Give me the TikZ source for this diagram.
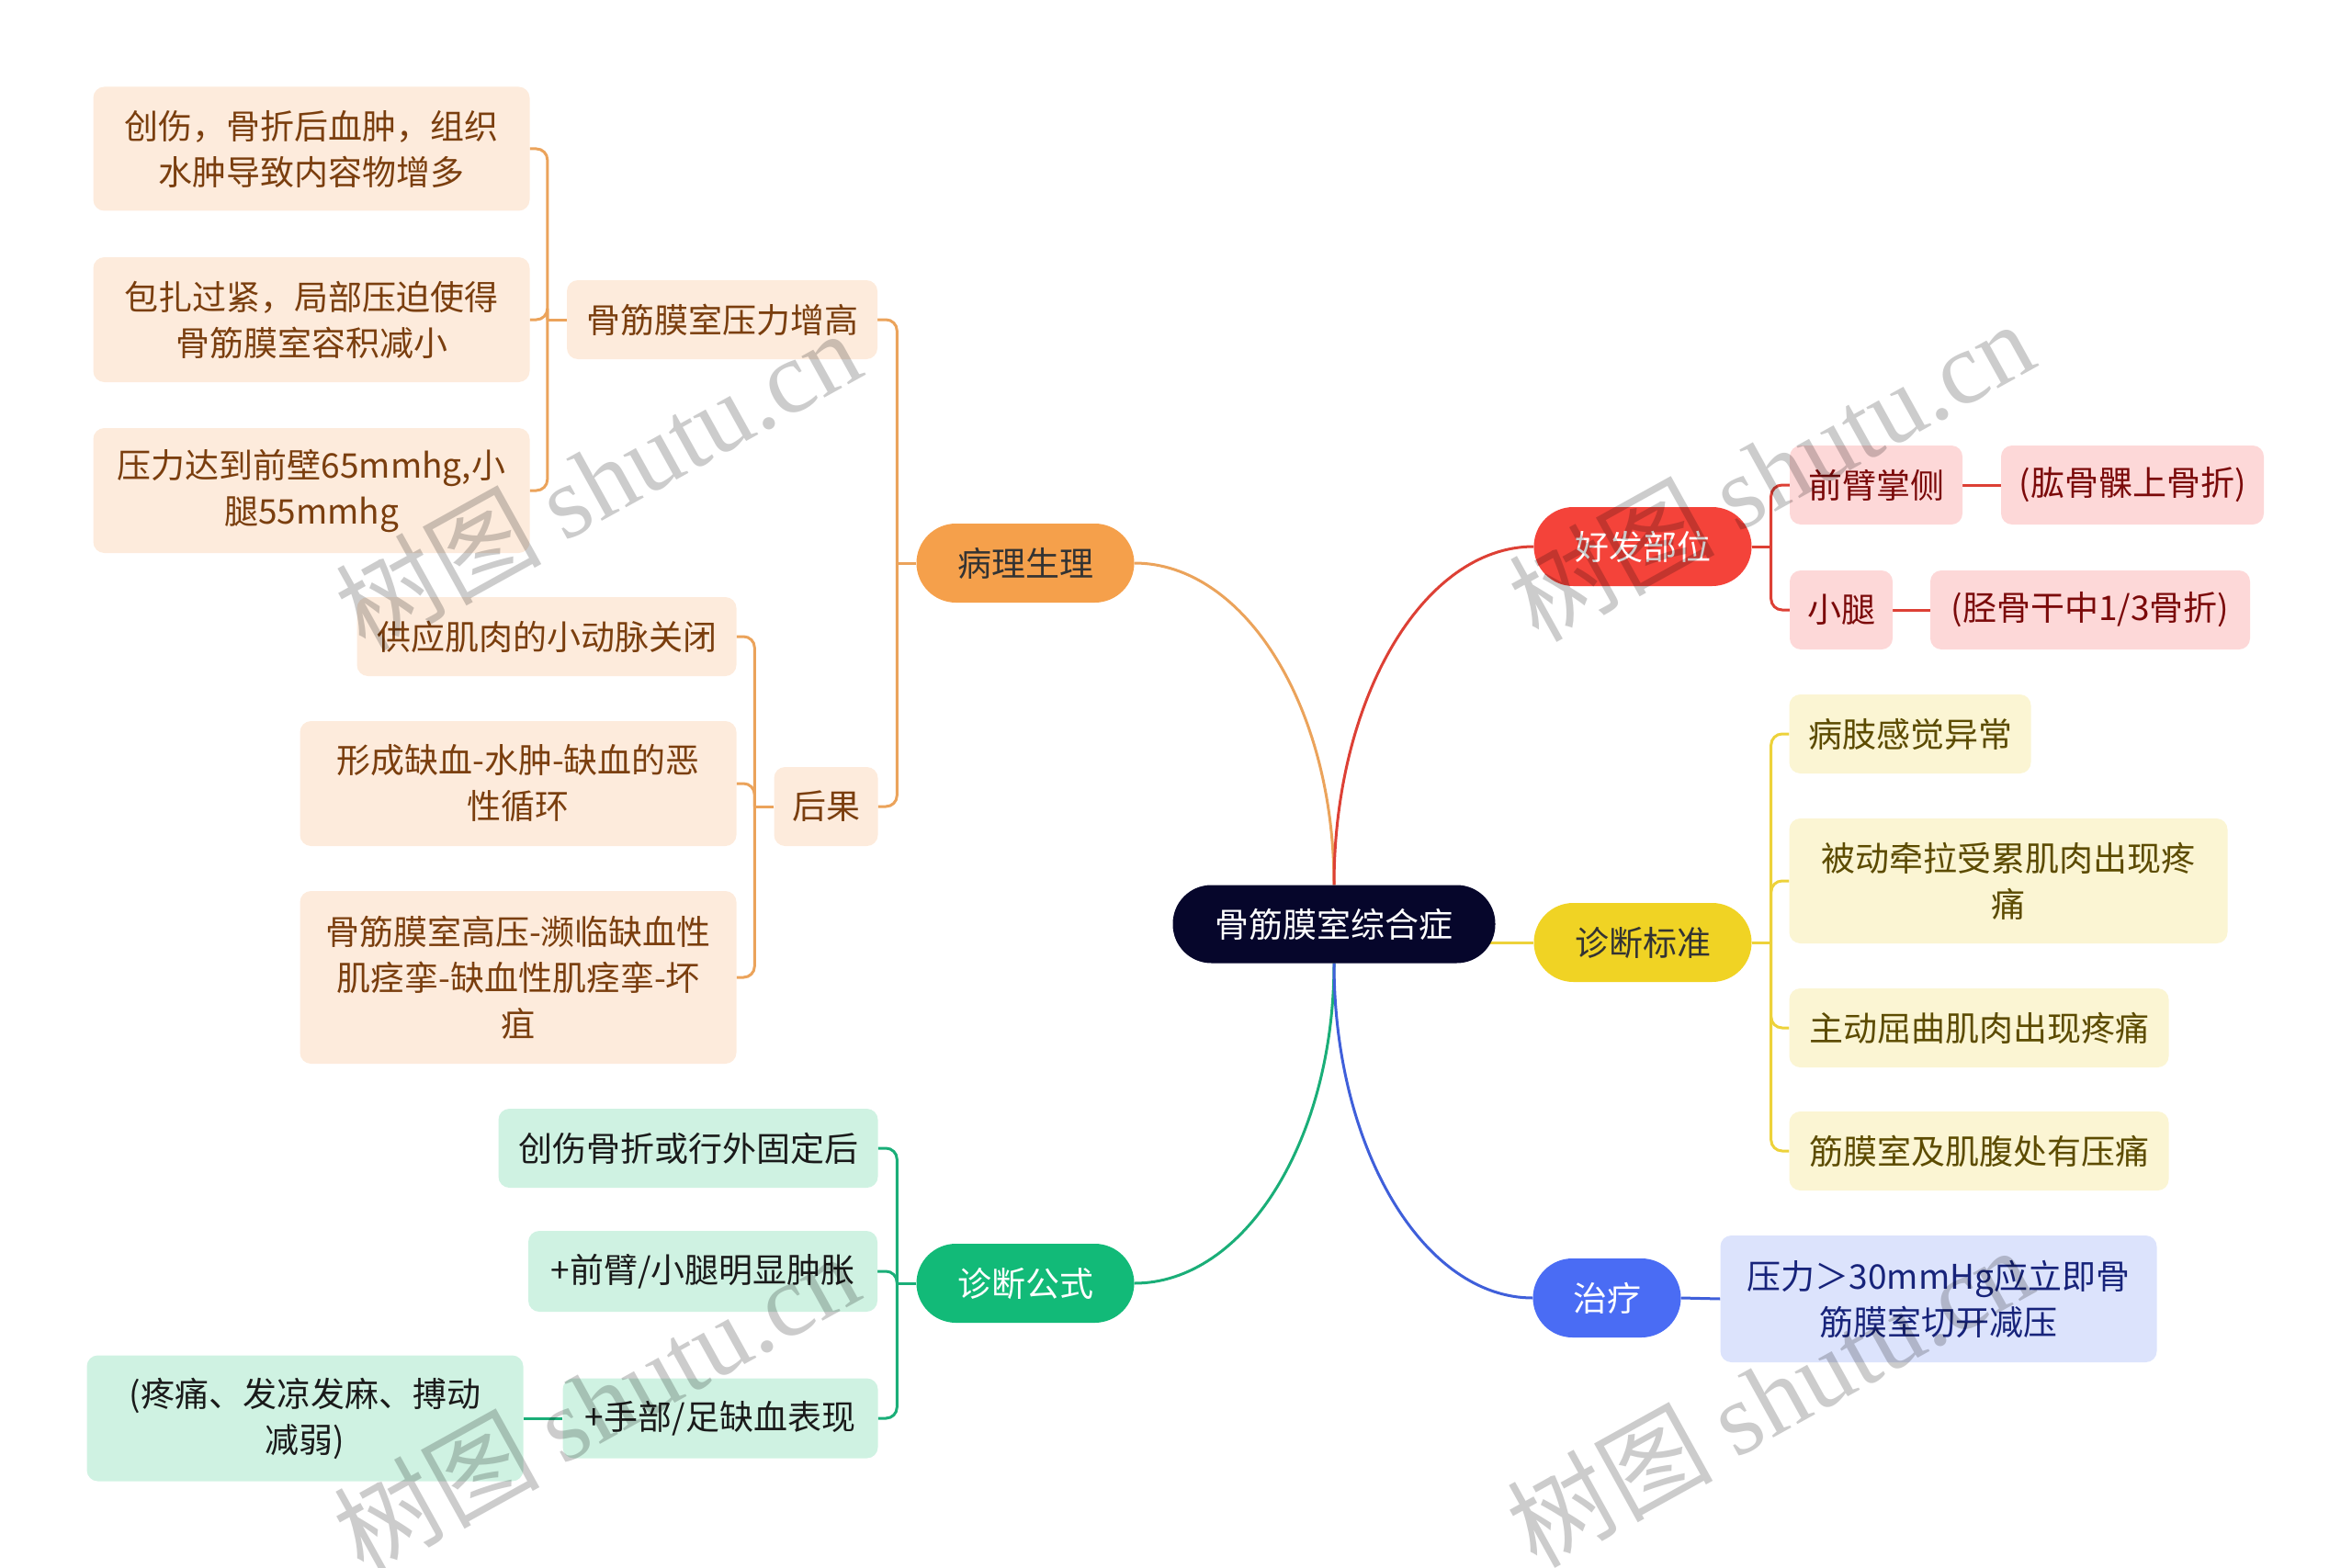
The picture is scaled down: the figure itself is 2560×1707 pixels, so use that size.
\documentclass[tikz,border=0pt]{standalone}
\usepackage{fontspec}
\setmainfont{Noto Sans CJK SC}
\newfontfamily\wmlatin{Liberation Serif}
\usetikzlibrary{calc,backgrounds}
\definecolor{rootfill}{HTML}{06062B}
\definecolor{orMain}{HTML}{F5A04B}
\definecolor{orLine}{HTML}{EBA35B}
\definecolor{orLight}{HTML}{FDEBDC}
\definecolor{orText}{HTML}{7A3E0E}
\definecolor{grMain}{HTML}{12BA78}
\definecolor{grLine}{HTML}{1AAE78}
\definecolor{grLight}{HTML}{CFF2E2}
\definecolor{grText}{HTML}{1A1A1A}
\definecolor{rdMain}{HTML}{F4433A}
\definecolor{rdLine}{HTML}{DD4035}
\definecolor{rdLight}{HTML}{FDD8D8}
\definecolor{rdText}{HTML}{7B0A0A}
\definecolor{ylMain}{HTML}{F0D324}
\definecolor{ylLine}{HTML}{EDD23A}
\definecolor{ylLight}{HTML}{FBF5D3}
\definecolor{ylText}{HTML}{5C4B00}
\definecolor{blMain}{HTML}{4A6CF4}
\definecolor{blLine}{HTML}{3F5FDA}
\definecolor{blLight}{HTML}{DCE3FC}
\definecolor{blText}{HTML}{17237A}
\newcommand\fs{\fontsize{37}{50}\selectfont}
\newcommand\rootcurve[3]{\draw[#1] (#2) .. controls ($(#2)!0.552!(#2 |- #3)$) and ($(#3)!0.552!(#2 |- #3)$) .. (#3);}
\newcommand\brL[3]{\draw[#1] (#2.west) -- ([xshift=-21pt]#2.west); \draw[#1,rounded corners=12pt] ([xshift=-21pt]#2.west) |- (#3.east);}
\newcommand\brR[3]{\draw[#1] (#2.east) -- ([xshift=21pt]#2.east); \draw[#1,rounded corners=12pt] ([xshift=21pt]#2.east) |- (#3.west);}
\tikzset{
  box/.style={rounded corners=12pt, inner sep=0pt, align=center, font=\fs, minimum height=86pt},
  pill/.style={rounded corners=43pt, inner sep=0pt, align=center, font=\fs, minimum height=86pt, minimum width=237pt},
  ob/.style={box, fill=orLight, text=orText},
  gb/.style={box, fill=grLight, text=grText},
  rb/.style={box, fill=rdLight, text=rdText},
  yb/.style={box, fill=ylLight, text=ylText},
  bb/.style={box, fill=blLight, text=blText},
  cl/.style={line width=3pt},
  wm/.style={rotate=29, text=black, opacity=0.2, font=\fontsize{112}{112}\selectfont}
}
\begin{document}
\begin{tikzpicture}[x=1pt,y=-1pt]
\useasboundingbox (0,0) rectangle (2560,1707);
% root and main branches
\node[pill, fill=rootfill, text=white, minimum width=351pt, minimum height=85pt, rounded corners=42pt] (root) at (1452,1006) {骨筋膜室综合症};
\node[pill, fill=orMain, text=black!80] (blsl) at (1116,613) {病理生理};
\node[pill, fill=grMain, text=white] (zdgs) at (1116,1397) {诊断公式};
\node[pill, fill=rdMain, text=white] (hfbw) at (1788,595) {好发部位};
\node[pill, fill=ylMain, text=black!80] (zdbz) at (1788,1026) {诊断标准};
\node[pill, fill=blMain, text=white, minimum width=161pt] (zl) at (1749,1413) {治疗};
% orange subtree
\node[ob, minimum width=338pt] (yl) at (786,348) {骨筋膜室压力增高};
\node[ob, minimum width=113pt] (hg) at (899,878) {后果};
\node[ob, minimum width=475pt, minimum height=135pt] (a1) at (339,162) {创伤，骨折后血肿，组织\\水肿导致内容物增多};
\node[ob, minimum width=475pt, minimum height=136pt] (a2) at (339,348) {包扎过紧，局部压迫使得\\骨筋膜室容积减小};
\node[ob, minimum width=475pt, minimum height=136pt] (a3) at (339,534) {压力达到前壁65mmhg,小\\腿55mmhg};
\node[ob, minimum width=413pt] (b1) at (595,693) {供应肌肉的小动脉关闭};
\node[ob, minimum width=475pt, minimum height=136pt] (b2) at (564,853) {形成缺血-水肿-缺血的恶\\性循环};
\node[ob, minimum width=475pt, minimum height=188pt] (b3) at (564,1064) {骨筋膜室高压-濒临缺血性\\肌痉挛-缺血性肌痉挛-坏\\疽};
% green subtree
\node[gb, minimum width=413pt] (c1) at (749,1250) {创伤骨折或行外固定后};
\node[gb, minimum width=380pt, minimum height=88pt] (c2) at (765,1384) {+前臂/小腿明显肿胀};
\node[gb, minimum width=343pt, minimum height=87pt] (c3) at (784,1544) {+手部/足缺血表现};
\node[gb, minimum width=475pt, minimum height=137pt] (c4) at (332,1544) {(疼痛、发凉发麻、搏动\\减弱)};
% red subtree
\node[rb, minimum width=188pt] (d1) at (2042,528) {前臂掌侧};
\node[rb, minimum width=286pt] (d2) at (2321,528) {(肱骨髁上骨折)};
\node[rb, minimum width=112pt] (d3) at (2004,664) {小腿};
\node[rb, minimum width=348pt] (d4) at (2275,664) {(胫骨干中1/3骨折)};
% yellow subtree
\node[yb, minimum width=263pt] (e1) at (2079,799) {病肢感觉异常};
\node[yb, minimum width=477pt, minimum height=136pt] (e2) at (2186,959) {被动牵拉受累肌肉出现疼\\痛};
\node[yb, minimum width=413pt] (e3) at (2154,1119) {主动屈曲肌肉出现疼痛};
\node[yb, minimum width=413pt] (e4) at (2154,1253) {筋膜室及肌腹处有压痛};
% blue subtree
\node[bb, minimum width=475pt, minimum height=138pt] (f1) at (2110,1414) {压力＞30mmHg应立即骨\\筋膜室切开减压};
% connectors
\begin{pgfonlayer}{background}
\rootcurve{cl, orLine}{root.north}{blsl.east}
\rootcurve{cl, rdLine}{root.north}{hfbw.west}
\rootcurve{cl, grLine}{root.south}{zdgs.east}
\rootcurve{cl, blLine}{root.south}{zl.west}
\draw[cl, ylLine] ([xshift=-20pt]root.east |- zdbz.west) -- (zdbz.west);
\brL{cl, orLine}{blsl}{yl}
\brL{cl, orLine}{blsl}{hg}
\brL{cl, orLine}{yl}{a1}
\brL{cl, orLine}{yl}{a2}
\brL{cl, orLine}{yl}{a3}
\brL{cl, orLine}{hg}{b1}
\brL{cl, orLine}{hg}{b2}
\brL{cl, orLine}{hg}{b3}
\brL{cl, grLine}{zdgs}{c1}
\brL{cl, grLine}{zdgs}{c2}
\brL{cl, grLine}{zdgs}{c3}
\draw[cl, grLine] (c3.west) -- (c4.east);
\brR{cl, rdLine}{hfbw}{d1}
\brR{cl, rdLine}{hfbw}{d3}
\draw[cl, rdLine] (d1.east) -- (d2.west);
\draw[cl, rdLine] (d3.east) -- (d4.west);
\brR{cl, ylLine}{zdbz}{e1}
\brR{cl, ylLine}{zdbz}{e2}
\brR{cl, ylLine}{zdbz}{e3}
\brR{cl, ylLine}{zdbz}{e4}
\draw[cl, blLine] (zl.east) -- (f1.west);
\end{pgfonlayer}
% watermarks
\node[wm] (w1) at (650,522) {树图 {\wmlatin shutu.cn}};
\node[wm] (w2) at (1927,512) {树图 {\wmlatin shutu.cn}};
\node[wm] (w3) at (648,1527) {树图 {\wmlatin shutu.cn}};
\node[wm] (w4) at (1925,1520) {树图 {\wmlatin shutu.cn}};
\end{tikzpicture}
\end{document}
